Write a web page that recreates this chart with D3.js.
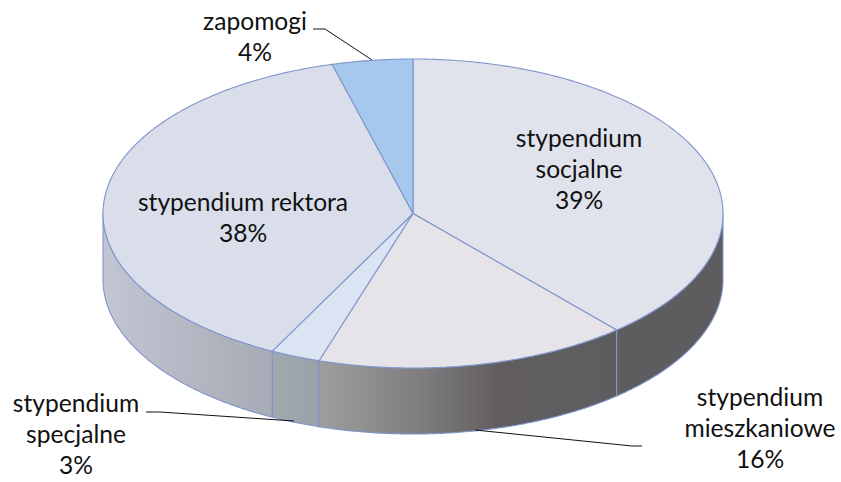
<!DOCTYPE html>
<html><head><meta charset="utf-8">
<script src="https://cdn.jsdelivr.net/npm/d3@7"></script>
<style>html,body{margin:0;background:#fff}svg{display:block}text{font-family:Lato,"Open Sans",sans-serif;font-size:24.6px;fill:#111;text-anchor:middle}</style>
</head><body><svg id="c" width="841" height="482"></svg>
<script>
const categories = ["stypendium socjalne","stypendium mieszkaniowe","stypendium specjalne","stypendium rektora","zapomogi"];
const values = [38.6,16.3,2.6,38.3,4.2];
const percentLabels = ["39%","16%","3%","38%","4%"];
const topColors = ["#e0e3ec","#e6e3e9","#dbe4f3","#d9deea","#a6c8ec"];
const labelLines = [["stypendium","socjalne","39%"],["stypendium","mieszkaniowe","16%"],["stypendium","specjalne","3%"],["stypendium rektora","38%"],["zapomogi","4%"]];
const labelAnchors = [[579,147],[760,406],[76,412],[243,211],[255,30]];
const leaders = [null,[[475,430],[632,446],[642,446]],[[146,412],[160,412],[294,421]],null,[[313,29],[325,29],[372,60]]];

const cx=413, cy=213.5, rx=310, ry=154.5, depth=66, lineH=31;
const stroke="#7f95cc";
const svg=d3.select("#c");
const sx=d3.scaleLinear().domain([-1,1]).range([cx-rx,cx+rx]);
const sy=d3.scaleLinear().domain([-1,1]).range([cy-ry,cy+ry]);
const px=a=>sx(Math.sin(a)), py=a=>sy(-Math.cos(a));
const arcs=d3.pie().sort(null).value(d=>d)(values);
const line=d3.line();
const rim=(a0,a1)=>{const n=Math.max(2,Math.ceil((a1-a0)/0.01));
  return d3.range(n+1).map(i=>{const a=a0+(a1-a0)*i/n;return [px(a),py(a)];});};

const defs=svg.append("defs");
const g=defs.append("linearGradient").attr("id","wall").attr("gradientUnits","userSpaceOnUse")
  .attr("x1",cx-rx).attr("x2",cx+rx).attr("y1",0).attr("y2",0);
[[103,"#c2c5d2"],[272,"#a7abb5"],[273,"#a0a9ae"],[317,"#99a2a8"],[318,"#9f9f9f"],[420,"#7f7d7f"],[500,"#615d60"],[617,"#5d5d5f"],[723,"#5d5d5f"]]
  .forEach(s=>g.append("stop").attr("offset",(s[0]-(cx-rx))/(2*rx)).attr("stop-color",s[1]));

const half=Math.PI/2, low=3*Math.PI/2;
arcs.forEach(d=>{
  const a0=Math.max(d.startAngle,half), a1=Math.min(d.endAngle,low);
  if(a1<=a0) return;
  const top=rim(a0,a1);
  const bot=top.map(p=>[p[0],p[1]+depth]).reverse();
  svg.append("path").attr("d",line(top.concat(bot))+"Z").attr("fill","url(#wall)").attr("stroke",stroke).attr("stroke-width",1.1);
});
arcs.forEach((d,i)=>{
  svg.append("path").attr("d",line([[cx,cy]].concat(rim(d.startAngle,d.endAngle)))+"Z")
    .attr("fill",topColors[i]).attr("stroke",stroke).attr("stroke-width",1.1).attr("stroke-linejoin","round");
});
leaders.forEach(l=>{ if(l) svg.append("path").attr("d",line(l)).attr("fill","none").attr("stroke","#111").attr("stroke-width",1); });
labelLines.forEach((ls,i)=>{
  const t=svg.append("text");
  ls.forEach((s,j)=>t.append("tspan").attr("x",labelAnchors[i][0]).attr("y",labelAnchors[i][1]+j*lineH).text(s));
});
</script></body></html>
